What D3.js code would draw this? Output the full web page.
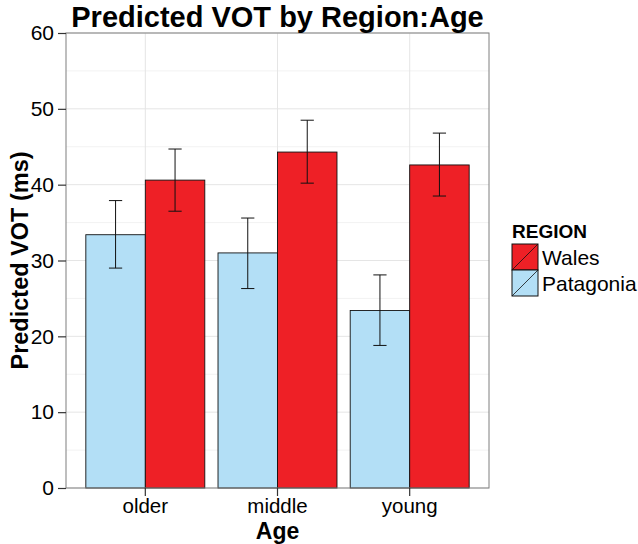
<!DOCTYPE html>
<html><head><meta charset="utf-8">
<script src="https://cdn.jsdelivr.net/npm/d3@7"></script>
<style>body{margin:0;background:#fff}svg{display:block}text{font-family:"Liberation Sans",Arial,Helvetica,sans-serif}</style>
</head><body>
<script>
const ages = ["older","middle","young"];
const regions = ["Patagonia","Wales"];
const legendOrder = ["Wales","Patagonia"];
const patagoniaVOT = [33.4, 31.0, 23.4];
const patagoniaLo = [29.0, 26.3, 18.8];
const patagoniaHi = [37.9, 35.6, 28.1];
const walesVOT = [40.6, 44.3, 42.6];
const walesLo = [36.5, 40.2, 38.5];
const walesHi = [44.7, 48.5, 46.8];
const yTicks = [0,10,20,30,40,50,60];
const yMinor = [5,15,25,35,45,55];

const colors = {Patagonia:"#b3dff6", Wales:"#ee2026"};
const series = {
  Patagonia: ages.map((a,i)=>({age:a,region:"Patagonia",v:patagoniaVOT[i],lo:patagoniaLo[i],hi:patagoniaHi[i]})),
  Wales: ages.map((a,i)=>({age:a,region:"Wales",v:walesVOT[i],lo:walesLo[i],hi:walesHi[i]}))
};
const data = regions.flatMap(r=>series[r]);

const W=638,H=544;
const L=66,R=489,T=33,B=488;
const svg=d3.select("body").append("svg").attr("width",W).attr("height",H);

const xc=d3.scaleLinear().domain([0.4,3.6]).range([L,R]);
const y=d3.scaleLinear().domain([0,60]).range([B,T]);

// grid
svg.append("g").selectAll("line").data(yMinor).join("line")
 .attr("x1",L).attr("x2",R).attr("y1",d=>y(d)).attr("y2",d=>y(d))
 .attr("stroke","#f2f2f2").attr("stroke-width",1);
svg.append("g").selectAll("line").data(yTicks).join("line")
 .attr("x1",L).attr("x2",R).attr("y1",d=>y(d)).attr("y2",d=>y(d))
 .attr("stroke","#e5e5e5").attr("stroke-width",1);
svg.append("g").selectAll("line").data(ages).join("line")
 .attr("x1",(d,i)=>xc(i+1)).attr("x2",(d,i)=>xc(i+1)).attr("y1",T).attr("y2",B)
 .attr("stroke","#e5e5e5").attr("stroke-width",1);

const bw=0.45;
const xpos=d=>ages.indexOf(d.age)+1+(d.region==="Patagonia"?-bw/2:bw/2);

svg.append("g").selectAll("rect").data(data).join("rect")
 .attr("x",d=>xc(xpos(d)-bw/2)).attr("width",d=>xc(bw)-xc(0))
 .attr("y",d=>y(d.v)).attr("height",d=>y(0)-y(d.v))
 .attr("fill",d=>colors[d.region]).attr("stroke","#111").attr("stroke-width",0.9);

// error bars
const ew=0.05;
const eb=svg.append("g").attr("stroke","#111").attr("stroke-width",1).attr("fill","none");
eb.selectAll("path").data(data).join("path")
 .attr("d",d=>{const cx=xc(xpos(d)),x0=xc(xpos(d)-ew),x1=xc(xpos(d)+ew);
   return `M${x0},${y(d.hi)}H${x1}M${cx},${y(d.hi)}V${y(d.lo)}M${x0},${y(d.lo)}H${x1}`;});

// panel border
svg.append("rect").attr("x",L).attr("y",T).attr("width",R-L).attr("height",B-T)
 .attr("fill","none").attr("stroke","#7f7f7f").attr("stroke-width",1);

// y axis
const ya=d3.axisLeft(y).tickValues(yTicks).tickSize(8).tickPadding(4);
const gy=svg.append("g").attr("transform",`translate(${L},0)`).call(ya);
gy.select(".domain").remove();
gy.selectAll(".tick line").attr("stroke","#333").attr("stroke-width",1.2);
gy.selectAll(".tick text").attr("font-size",21).attr("fill","#000")
  .attr("font-family",'"Liberation Sans",Arial,sans-serif');

// x axis
const xb=d3.scaleBand().domain(ages).range([xc(0.5),xc(3.5)]);
const xa=d3.axisBottom(xb).tickSize(8).tickPadding(2);
const gx=svg.append("g").attr("transform",`translate(0,${B})`).call(xa);
gx.select(".domain").remove();
gx.selectAll(".tick line").attr("stroke","#333").attr("stroke-width",1.2);
gx.selectAll(".tick text").attr("font-size",20.5).attr("fill","#000")
  .attr("font-family",'"Liberation Sans",Arial,sans-serif');

// titles
svg.append("text").attr("x",(L+R)/2).attr("y",27).attr("text-anchor","middle")
 .attr("font-size",29).attr("font-weight","bold").text("Predicted VOT by Region:Age");
svg.append("text").attr("x",(L+R)/2).attr("y",539).attr("text-anchor","middle")
 .attr("font-size",23).attr("font-weight","bold").text("Age");
svg.append("text").attr("transform",`translate(28,${(T+B)/2}) rotate(-90)`).attr("text-anchor","middle")
 .attr("font-size",23.5).attr("font-weight","bold").text("Predicted VOT (ms)");

// legend
const lg=svg.append("g").attr("transform","translate(512,0)");
lg.append("text").attr("x",0).attr("y",238).attr("font-size",19).attr("font-weight","bold").text("REGION");
const ks=26;
legendOrder.forEach((r,i)=>{
  const ky=244+i*ks;
  lg.append("rect").attr("x",0).attr("y",ky).attr("width",ks).attr("height",ks)
    .attr("fill",colors[r]).attr("stroke","#111").attr("stroke-width",1);
  lg.append("line").attr("x1",0).attr("y1",ky+ks).attr("x2",ks).attr("y2",ky)
    .attr("stroke","#111").attr("stroke-width",0.8);
  lg.append("text").attr("x",ks+4).attr("y",ky+ks/2+7.5).attr("font-size",21).text(r);
});
</script>
</body></html>
